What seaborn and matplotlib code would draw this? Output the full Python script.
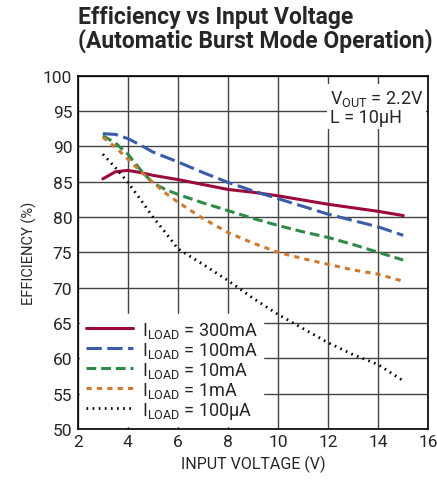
import seaborn as sns
import matplotlib.pyplot as plt
import pandas as pd

# efficiency (%)
vin = [3, 3.5, 4, 4.5, 5, 5.5, 6, 7, 8, 9, 10, 11, 12, 13, 14, 15]
eff_300ma = [85.4, 86.4, 86.6, 86.3, 85.9, 85.6, 85.3, 84.6, 83.9, 83.5, 83.0, 82.4, 81.8, 81.3, 80.8, 80.2]
eff_100ma = [91.8, 91.7, 91.1, 90.2, 89.2, 88.5, 87.8, 86.3, 84.9, 83.7, 82.6, 81.5, 80.4, 79.5, 78.6, 77.4]
eff_10ma = [91.5, 90.5, 88.9, 86.7, 84.8, 83.9, 83.2, 82.0, 80.9, 79.8, 78.8, 77.9, 77.1, 76.1, 75.0, 73.9]
eff_1ma = [91.3, 89.9, 88.2, 86.5, 84.9, 83.4, 82.1, 79.8, 77.8, 76.3, 75.0, 74.1, 73.3, 72.5, 71.9, 70.9]
eff_100ua = [88.9, 87.0, 84.9, 82.5, 80.0, 77.8, 75.5, 73.3, 71.0, 68.5, 66.2, 64.2, 62.2, 60.5, 59.1, 56.8]

labels = ['300mA', '100mA', '10mA', '1mA', '100µA']
colors = ['#9c0a3c', '#3b5ca8', '#2f8a47', '#cf7a2e', '#000000']
styles = ['-', (0, (5, 1.8)), (0, (3.2, 1.6)), (0, (1.7, 1.7)), (0, (0.6, 1.6))]
widths = [2.2, 2.2, 2.2, 2.2, 2.0]
series = [eff_300ma, eff_100ma, eff_10ma, eff_1ma, eff_100ua]

sns.set_style('white')
plt.rcParams['font.family'] = ['Roboto', 'DejaVu Sans']
plt.rcParams['mathtext.fontset'] = 'custom'
plt.rcParams['mathtext.rm'] = 'Roboto'

fig = plt.figure(figsize=(4.37, 4.89), dpi=100)
ax = fig.add_axes([0.178, 0.121, 0.802, 0.722])

for vals, lab, c, ls, lw in zip(series, labels, colors, styles, widths):
    df = pd.DataFrame({'vin': vin, 'eff': vals})
    sns.lineplot(data=df, x='vin', y='eff', ax=ax, color=c, lw=lw,
                 linestyle=ls, label=r'I$_{\mathrm{LOAD}}$ = ' + lab)

ax.set_xlim(2, 16)
ax.set_ylim(50, 100)
ax.set_xticks(range(2, 17, 2))
ax.set_yticks(range(50, 101, 5))
ax.grid(True, color='#444444', lw=1.0)
ax.set_axisbelow(True)
for s in ax.spines.values():
    s.set_color('black')
    s.set_linewidth(1.2)
ax.tick_params(length=0, labelsize=12.5, pad=4)
ax.set_xlabel('INPUT VOLTAGE (V)', fontsize=11.5)
ax.set_ylabel('EFFICIENCY (%)', fontsize=10.5)

leg = ax.legend(loc='lower left', fontsize=13, handlelength=2.6, handletextpad=0.5,
                labelspacing=0.0, borderpad=0.3, borderaxespad=0.15,
                frameon=True, fancybox=False, framealpha=1)
leg.get_frame().set_edgecolor('white')

ax.text(0.72, 0.965, 'V$_{\\mathrm{OUT}}$ = 2.2V\nL = 10µH', transform=ax.transAxes,
        ha='left', va='top', fontsize=13, linespacing=1.0,
        bbox=dict(facecolor='white', edgecolor='none', pad=2))

fig.text(0.178, 0.988, 'Efficiency vs Input Voltage\n(Automatic Burst Mode Operation)',
         ha='left', va='top', fontsize=16.5, fontweight='bold', linespacing=1.0)

fig.savefig('out.png', dpi=100)
